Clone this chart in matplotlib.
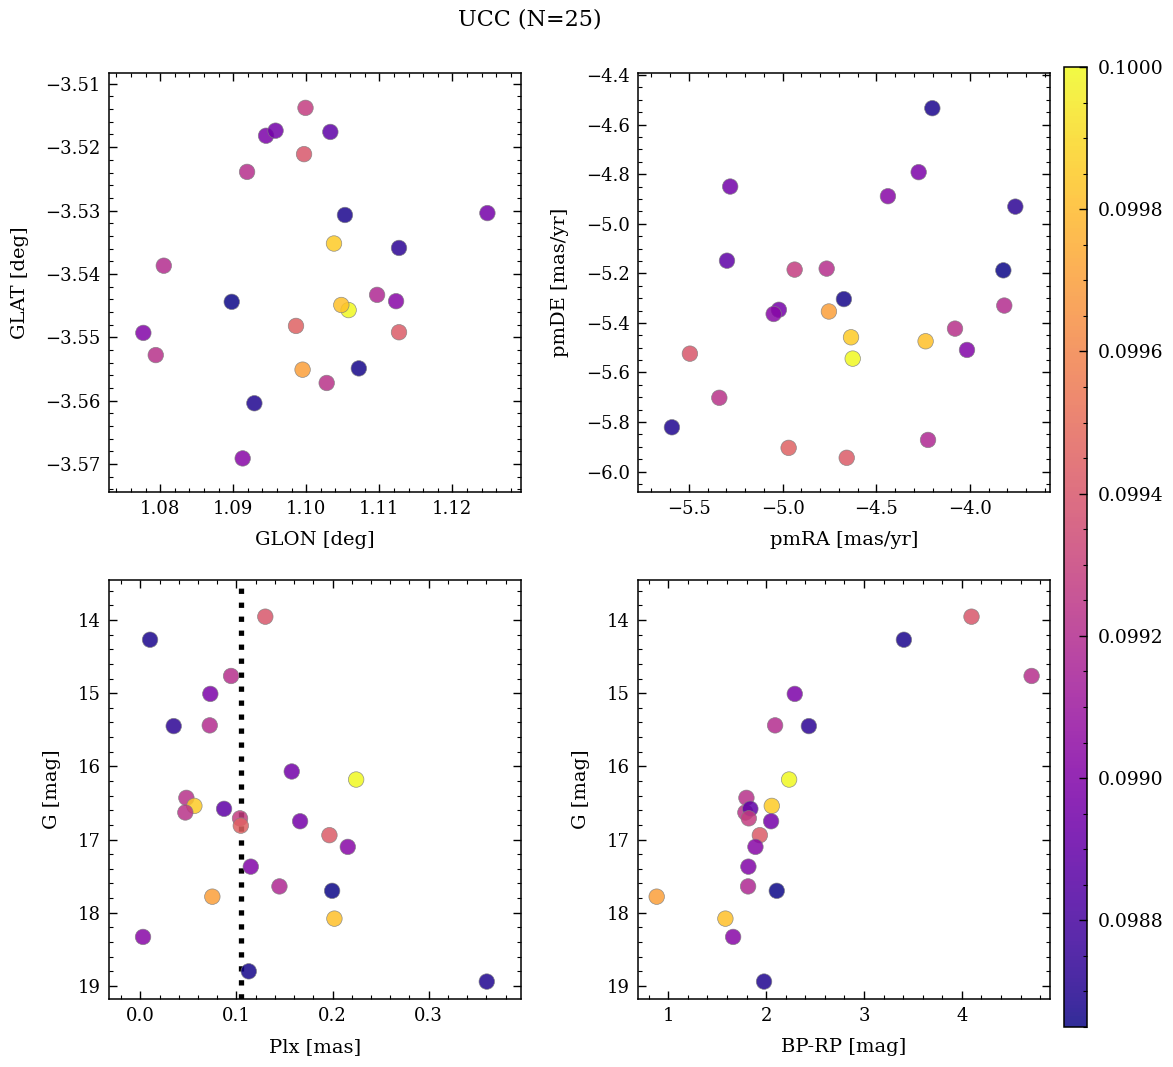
import matplotlib
matplotlib.use("Agg")
import matplotlib.pyplot as plt
import numpy as np
from matplotlib.ticker import AutoMinorLocator, FormatStrFormatter

plt.rcParams['font.family'] = 'DejaVu Serif'
plt.rcParams['mathtext.fontset'] = 'dejavuserif'

# one entry per member star (25)
glon = [1.0997, 1.1053, 1.0919, 1.0945, 1.1127, 1.0805, 1.0958, 1.1058, 1.0794, 1.1038,
        1.1028, 1.1033, 1.0999, 1.0986, 1.1248, 1.1127, 1.1123, 1.0777, 1.1097, 1.0898,
        1.0995, 1.1048, 1.0913, 1.1072, 1.0929]
glat = [-3.5211, -3.5307, -3.5239, -3.5182, -3.5359, -3.5387, -3.5174, -3.5457, -3.5528, -3.5352,
        -3.5572, -3.5176, -3.5138, -3.5482, -3.5304, -3.5492, -3.5443, -3.5493, -3.5433, -3.5444,
        -3.5551, -3.5449, -3.5691, -3.5549, -3.5604]
pmra = [-5.495, -4.201, -4.765, -4.274, -3.758, -3.817, -5.280, -4.626, -4.080, -4.635,
        -5.338, -5.297, -4.936, -4.968, -5.020, -4.658, -5.048, -4.016, -4.224, -3.822,
        -4.753, -4.237, -4.438, -4.673, -5.591]
pmde = [-5.524, -4.534, -5.181, -4.792, -4.931, -5.330, -4.850, -5.544, -5.423, -5.458,
        -5.702, -5.149, -5.185, -5.904, -5.347, -5.944, -5.364, -5.509, -5.872, -5.188,
        -5.354, -5.474, -4.889, -5.304, -5.821]
plx = [0.1300, 0.0101, 0.0944, 0.0728, 0.0347, 0.0722, 0.1575, 0.2245, 0.0479, 0.0562,
       0.0468, 0.0871, 0.1037, 0.1045, 0.1662, 0.1967, 0.2158, 0.1149, 0.1447, 0.1995,
       0.0749, 0.2019, 0.0028, 0.1128, 0.3604]
gmag = [13.955, 14.27, 14.765, 15.01, 15.45, 15.44, 16.07, 16.18, 16.43, 16.54,
        16.63, 16.58, 16.71, 16.81, 16.75, 16.94, 17.10, 17.37, 17.64, 17.70,
        17.78, 18.08, 18.33, 18.80, 18.94]
bprp = [4.098, 3.407, 4.712, 2.292, 2.436, 2.091, np.nan, 2.234, 1.798, 2.057,
        1.787, 1.838, 1.822, np.nan, 2.050, 1.935, 1.890, 1.818, 1.815, 2.108,
        0.881, 1.583, 1.662, np.nan, 1.978]
prob = [0.09940, 0.09868, 0.09921, 0.09898, 0.09872, 0.09920, 0.09895, 0.10000, 0.09922, 0.09985,
        0.09923, 0.09888, 0.09928, 0.09945, 0.09896, 0.09942, 0.09902, 0.09900, 0.09918, 0.09865,
        0.09970, 0.09982, 0.09902, 0.09867, 0.09869]

W, H = 1173, 1067
fig = plt.figure(figsize=(W / 100, H / 100), dpi=100)


def px_axes(x0, y0, x1, y1):
    return fig.add_axes([x0 / W, 1 - y1 / H, (x1 - x0) / W, (y1 - y0) / H])


ax1 = px_axes(109, 73, 521, 492)
ax2 = px_axes(638, 73, 1050, 492)
ax3 = px_axes(109, 580, 521, 999)
ax4 = px_axes(638, 580, 1050, 999)
cax = px_axes(1064, 67, 1087, 1027)

vmin, vmax = min(prob), max(prob)
kw = dict(c=prob, cmap='plasma', vmin=vmin, vmax=vmax, s=125, alpha=0.85,
          edgecolors='0.5', linewidths=0.5, zorder=3)

sc = ax1.scatter(glon, glat, **kw)
ax1.set_xlim(1.0730, 1.1294)
ax1.set_ylim(-3.5744, -3.5083)
ax1.set_xlabel('GLON [deg]')
ax1.set_ylabel('GLAT [deg]')

ax2.scatter(pmra, pmde, **kw)
ax2.set_xlim(-5.772, -3.573)
ax2.set_ylim(-6.082, -4.392)
ax2.set_xlabel('pmRA [mas/yr]')
ax2.set_ylabel('pmDE [mas/yr]')

ax3.scatter(plx, gmag, **kw)
ax3.axvline(np.median(plx), color='k', ls=':', lw=3.8, zorder=2)
ax3.set_xlim(-0.0326, 0.396)
ax3.set_ylim(19.178, 13.454)
ax3.set_xlabel('Plx [mas]')
ax3.set_ylabel('G [mag]')

ax4.scatter(bprp, gmag, **kw)
ax4.set_xlim(0.69, 4.90)
ax4.set_ylim(19.178, 13.454)
ax4.set_xlabel('BP-RP [mag]')
ax4.set_ylabel('G [mag]')

for ax in (ax1, ax2, ax3, ax4):
    ax.xaxis.set_minor_locator(AutoMinorLocator())
    ax.yaxis.set_minor_locator(AutoMinorLocator())
    ax.tick_params(which='both', direction='in', top=True, right=True, labelsize=13)
    ax.tick_params(which='major', length=6, width=1, pad=6)
    ax.tick_params(which='minor', length=3, width=0.8)
    ax.xaxis.label.set_size(14)
    ax.yaxis.label.set_size(14)
    ax.xaxis.labelpad = 9
    ax.yaxis.labelpad = 12
    for sp in ax.spines.values():
        sp.set_linewidth(1.1)

cb = fig.colorbar(plt.cm.ScalarMappable(norm=sc.norm, cmap='plasma'), cax=cax)
cb.solids.set_alpha(0.85)
cb.ax.yaxis.set_major_formatter(FormatStrFormatter('%.4f'))
cb.ax.yaxis.set_minor_locator(AutoMinorLocator())
cb.ax.tick_params(which='both', direction='in', labelsize=13.5)
cb.ax.tick_params(which='major', length=6, width=1, pad=8)
cb.ax.tick_params(which='minor', length=3, width=0.8)
cb.outline.set_linewidth(1.1)

fig.suptitle('UCC (N=25)', x=0.452, y=0.992, fontsize=16)

fig.savefig('out.png', dpi=100)
